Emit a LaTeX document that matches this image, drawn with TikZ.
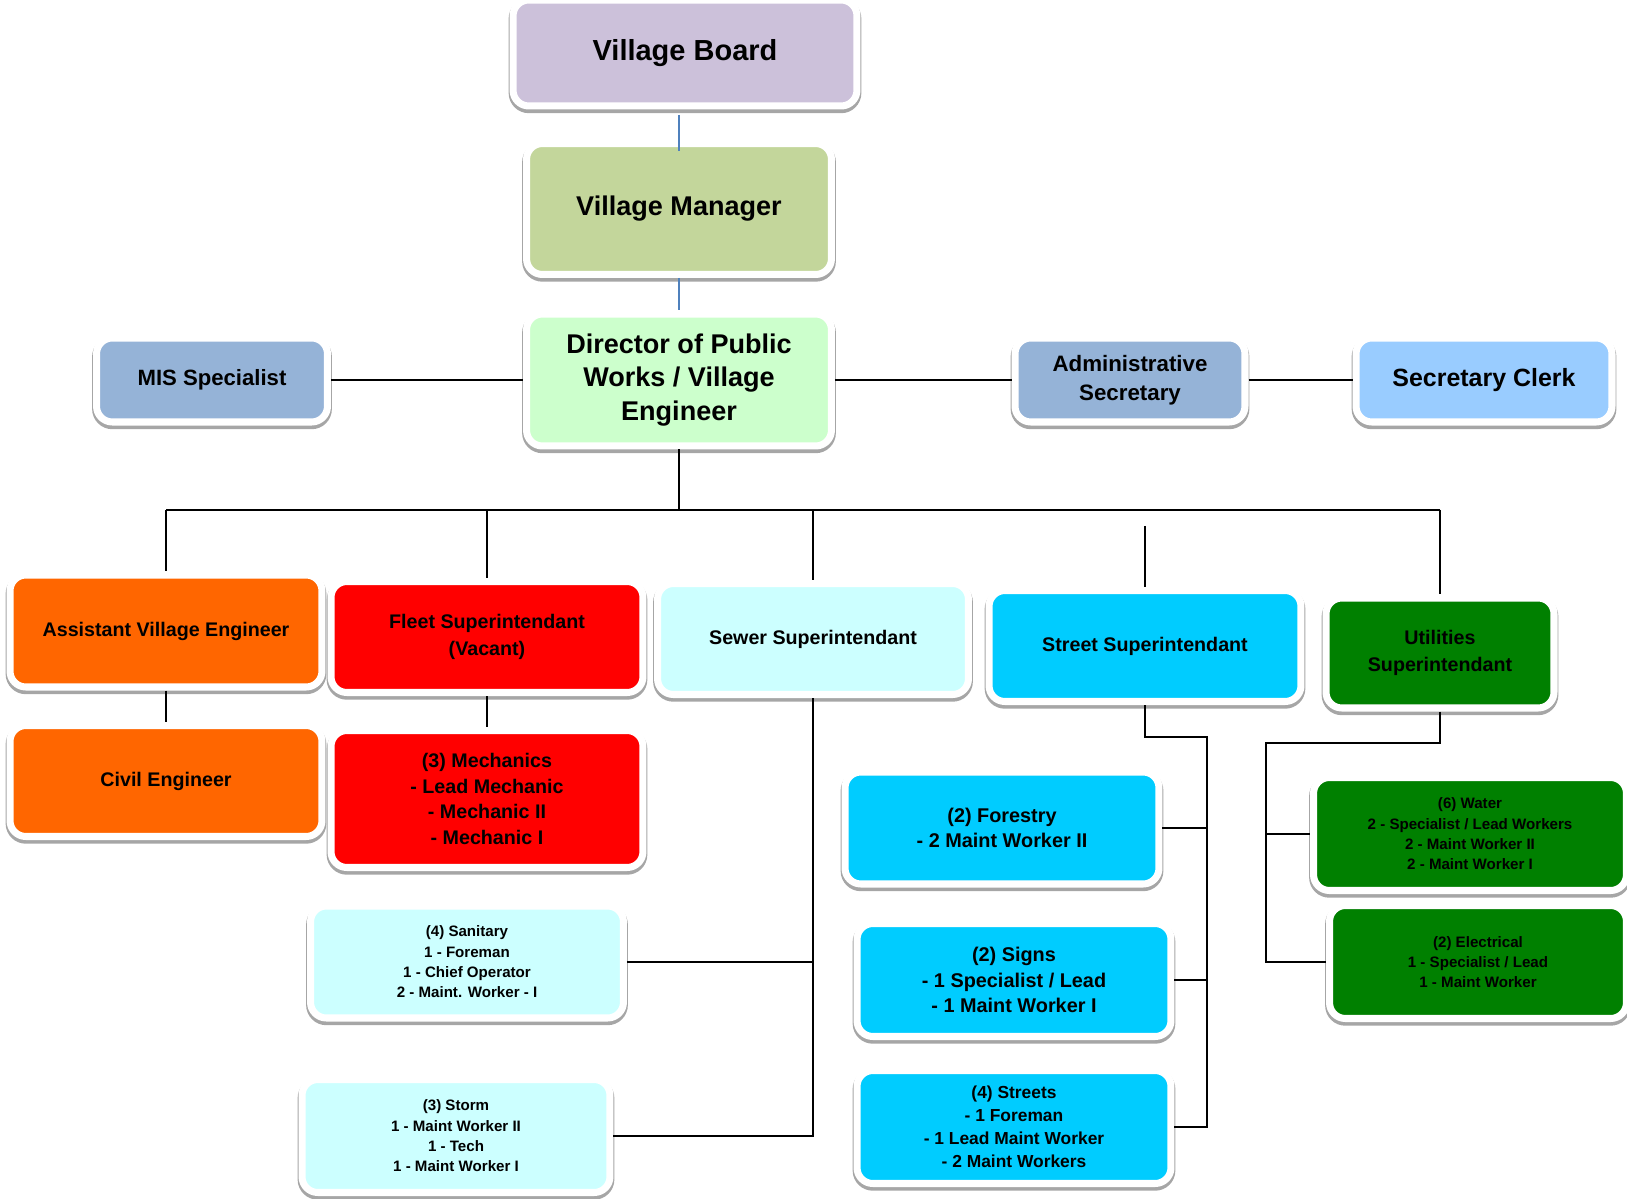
\documentclass[tikz,border=0pt]{standalone}
\usepackage{fontspec}
\setmainfont{Liberation Sans}
\definecolor{boardc}{HTML}{CCC1DA}
\definecolor{managerc}{HTML}{C3D69B}
\definecolor{directorc}{HTML}{CCFFCC}
\definecolor{staffc}{HTML}{95B3D7}
\definecolor{clerkc}{HTML}{99CCFF}
\definecolor{engc}{HTML}{FF6600}
\definecolor{fleetc}{HTML}{FF0000}
\definecolor{sewerc}{HTML}{CCFFFF}
\definecolor{streetc}{HTML}{00CCFF}
\definecolor{utilc}{HTML}{008000}
\definecolor{toplinec}{HTML}{4F81BD}
\begin{document}
\begin{tikzpicture}[x=0.02cm,y=-0.02cm]
\tikzset{card/.style={rounded corners=9pt, fill=#1, draw=white, line width=4pt,
    preaction={draw=gray!70, line width=5pt, transform canvas={yshift=-1.6pt}},
    align=center, inner sep=1pt}}
\tikzset{link/.style={draw=black, line width=0.9pt}}
\tikzset{toplink/.style={draw=toplinec, line width=0.9pt}}
\tikzset{bigtxt/.style={font=\bfseries\fontsize{15.4}{19.3}\selectfont}}
\tikzset{midtxt/.style={font=\bfseries\fontsize{11.2}{15}\selectfont}}
\tikzset{smalltxt/.style={font=\bfseries\fontsize{8.6}{11.6}\selectfont}}
\useasboundingbox (0,0) rectangle (1627,1199);
% vertices
\node[card=boardc, minimum width=6.88cm, minimum height=2.12cm, font=\bfseries\fontsize{16.5}{20}\selectfont] (board) at (685,53) {Village Board};
\node[card=managerc, minimum width=6.10cm, minimum height=2.62cm, bigtxt] (manager) at (679,209) {Village Manager};
\node[card=directorc, minimum width=6.10cm, minimum height=2.64cm, bigtxt] (dir) at (679,380) {Director of Public\\Works / Village\\Engineer};
\node[card=staffc, minimum width=4.62cm, minimum height=1.68cm, font=\bfseries\fontsize{12.6}{16}\selectfont] (mis) at (212,380) {MIS Specialist};
\node[card=staffc, minimum width=4.60cm, minimum height=1.68cm, font=\bfseries\fontsize{12.7}{16.5}\selectfont] (admin) at (1130,380) {Administrative\\Secretary};
\node[card=clerkc, minimum width=5.12cm, minimum height=1.68cm, font=\bfseries\fontsize{14.2}{18}\selectfont] (clerk) at (1484,380) {Secretary Clerk};
% superintendants
\node[card=engc, minimum width=6.24cm, minimum height=2.24cm, midtxt] (ave) at (166,631) {Assistant Village Engineer};
\node[card=fleetc, minimum width=6.24cm, minimum height=2.22cm, midtxt] (fleet) at (487,637) {Fleet Superintendant\\(Vacant)};
\node[card=sewerc, minimum width=6.22cm, minimum height=2.22cm, midtxt] (sewer) at (813,639) {Sewer Superintendant};
\node[card=streetc, minimum width=6.24cm, minimum height=2.22cm, midtxt] (street) at (1145,646) {Street Superintendant};
\node[card=utilc, minimum width=4.56cm, minimum height=2.20cm, midtxt] (util) at (1440,653) {Utilities\\Superintendant};
% crews
\node[card=engc, minimum width=6.24cm, minimum height=2.22cm, midtxt] (civil) at (166,781) {Civil Engineer};
\node[card=fleetc, minimum width=6.24cm, minimum height=2.74cm, font=\bfseries\fontsize{11.2}{14.6}\selectfont] (mech) at (487,799) {(3) Mechanics\\- Lead Mechanic\\- Mechanic II\\- Mechanic I};
\node[card=sewerc, minimum width=6.26cm, minimum height=2.24cm, smalltxt] (sanitary) at (467,962) {(4) Sanitary\\1 - Foreman\\1 - Chief Operator\\2 - Maint. Worker - I};
\node[card=sewerc, minimum width=6.16cm, minimum height=2.26cm, smalltxt] (storm) at (456,1136) {(3) Storm\\1 - Maint Worker II\\1 - Tech\\1 - Maint Worker I};
\node[card=streetc, minimum width=6.28cm, minimum height=2.24cm, font=\bfseries\fontsize{11.3}{14.6}\selectfont] (forestry) at (1002,828) {(2) Forestry\\- 2 Maint Worker II};
\node[card=streetc, minimum width=6.28cm, minimum height=2.26cm, font=\bfseries\fontsize{11.3}{14.5}\selectfont] (signs) at (1014,980) {(2) Signs\\- 1 Specialist / Lead\\- 1 Maint Worker I};
\node[card=streetc, minimum width=6.28cm, minimum height=2.26cm, font=\bfseries\fontsize{9.9}{13}\selectfont] (streets) at (1014,1127) {(4) Streets\\- 1 Foreman\\- 1 Lead Maint Worker\\- 2 Maint Workers};
\node[card=utilc, minimum width=6.26cm, minimum height=2.26cm, smalltxt] (water) at (1470,834) {(6) Water\\2 - Specialist / Lead Workers\\2 - Maint Worker II\\2 - Maint Worker I};
\node[card=utilc, minimum width=5.94cm, minimum height=2.26cm, smalltxt] (elec) at (1478,962) {(2) Electrical\\1 - Specialist / Lead\\1 - Maint Worker};
% junctions
\coordinate (busL) at (166,510);
\coordinate (busR) at (1440,510);
\coordinate (stgap) at (1145,526);
\coordinate (stj) at (1207,737);
\coordinate (utj) at (1266,743);
%edges
\draw[toplink, shorten <=3pt, shorten >=-6pt] (manager.north |- board.south) -- (manager);
\draw[toplink] (manager) -- (dir);
\draw[link] (mis) -- (dir);
\draw[link] (dir) -- (admin);
\draw[link] (admin) -- (clerk);
\draw[link] (dir) -- (dir |- busL);
\draw[link] (busL) -- (busR);
\draw[link] (busL) -- (ave);
\draw[link] (fleet |- busL) -- (fleet);
\draw[link] (sewer |- busL) -- (sewer);
\draw[link] (stgap) -- (street);
\draw[link] (busR) -- (util);
\draw[link] (ave) -- (civil);
\draw[link] (fleet) -- (mech);
\draw[link] (sewer) -- (sewer |- storm) -- (storm);
\draw[link] (sanitary) -- (sewer |- sanitary);
\draw[link] (street) -- (street |- stj) -- (stj) -- (stj |- streets) -- (streets);
\draw[link] (forestry) -- (stj |- forestry);
\draw[link] (signs) -- (stj |- signs);
\draw[link] (util) -- (util |- utj) -- (utj) -- (utj |- water) -- (water);
\draw[link] (utj |- water) -- (utj |- elec) -- (elec);
\end{tikzpicture}
\end{document}
